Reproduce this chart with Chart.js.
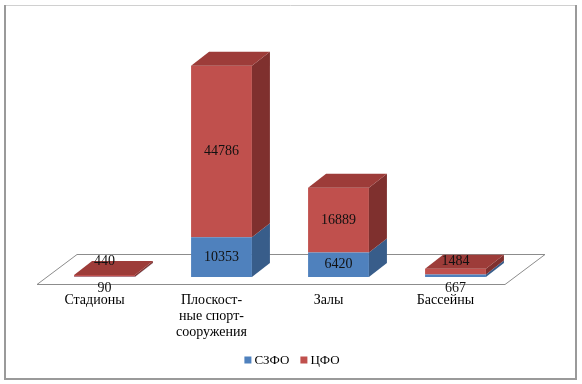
<!DOCTYPE html>
<html>
<head>
<meta charset="utf-8">
<script src="https://cdn.jsdelivr.net/npm/chart.js@4.4.1/dist/chart.umd.min.js"></script>
<style>
  html, body { margin: 0; padding: 0; background: #fff; }
  #wrap { width: 582px; height: 384px; position: relative; }
</style>
</head>
<body>
<div id="wrap"><canvas id="chart"></canvas></div>
<script>
// Chart data
const categories = ['Стадионы', ['Плоскост-', 'ные спорт-', 'сооружения'], 'Залы', 'Бассейны'];
const szfo = [90, 10353, 6420, 667];
const cfo = [440, 44786, 16889, 1484];
const seriesNames = ['СЗФО', 'ЦФО'];

// Colours: front, side, top
const faces = [
  { front: '#4f81bd', side: '#385d8a', top: '#416a9c' },
  { front: '#c0504d', side: '#7f302e', top: '#9d3c39' }
];

const DX = 18, DY = -14;
const FONT = "'Liberation Serif', 'Times New Roman', serif";

Chart.defaults.font.family = FONT;

function poly(ctx, pts, fill, stroke) {
  ctx.beginPath();
  ctx.moveTo(pts[0][0], pts[0][1]);
  for (let i = 1; i < pts.length; i++) ctx.lineTo(pts[i][0], pts[i][1]);
  ctx.closePath();
  if (fill) { ctx.fillStyle = fill; ctx.fill(); }
  if (stroke) { ctx.strokeStyle = stroke; ctx.lineWidth = 1; ctx.stroke(); }
}

const bar3d = {
  id: 'bar3d',
  beforeDraw(chart) {
    const ctx = chart.ctx;
    ctx.save();
    ctx.fillStyle = '#fff';
    ctx.fillRect(0, 0, chart.width, chart.height);
    // frame
    ctx.strokeStyle = '#d0d0d0';
    ctx.lineWidth = 1;
    ctx.beginPath(); ctx.moveTo(4, 5.5); ctx.lineTo(577, 5.5); ctx.stroke();
    ctx.strokeStyle = '#9a9a9a';
    ctx.lineWidth = 2;
    ctx.beginPath();
    ctx.moveTo(5, 5); ctx.lineTo(5, 379); ctx.lineTo(576, 379); ctx.lineTo(576, 5);
    ctx.stroke();
    ctx.restore();
  },
  beforeDatasetsDraw(chart) {
    const ctx = chart.ctx;
    const a = chart.chartArea;
    ctx.save();
    poly(ctx, [
      [a.left - 9, a.bottom + 7.5], [a.right - 9, a.bottom + 7.5],
      [a.right + 31, a.bottom - 22.5], [a.left + 31, a.bottom - 22.5]
    ], '#fff', '#8c8c8c');
    ctx.restore();
  },
  afterDatasetsDraw(chart) {
    const ctx = chart.ctx;
    const a = chart.chartArea;
    const last = chart.data.datasets.length - 1;
    ctx.save();
    chart.data.datasets.forEach((ds, d) => {
      const meta = chart.getDatasetMeta(d);
      meta.data.forEach(el => {
        const left = el.x - el.width / 2, right = el.x + el.width / 2;
        const top = Math.min(el.y, el.base), bottom = Math.max(el.y, el.base);
        poly(ctx, [[right, top], [right + DX, top + DY], [right + DX, bottom + DY], [right, bottom]], faces[d].side);
        if (d === last) {
          poly(ctx, [[left, top], [left + DX, top + DY], [right + DX, top + DY], [right, top]], faces[d].top);
        }
      });
    });
    // data labels
    ctx.font = '14px ' + FONT;
    ctx.fillStyle = '#111';
    ctx.textAlign = 'center';
    ctx.textBaseline = 'middle';
    chart.data.datasets.forEach((ds, d) => {
      const meta = chart.getDatasetMeta(d);
      meta.data.forEach((el, i) => {
        const top = Math.min(el.y, el.base), bottom = Math.max(el.y, el.base);
        let y;
        if (bottom - top >= 16) y = (top + bottom) / 2;
        else if (d === 0) y = a.bottom + 11;
        else y = a.bottom - 16;
        ctx.fillText(String(ds.data[i]), el.x, y);
      });
    });
    ctx.restore();
  },
  afterDraw(chart) {
    const ctx = chart.ctx;
    const a = chart.chartArea;
    const xs = chart.scales.x;
    ctx.save();
    // category labels
    ctx.font = '14px ' + FONT;
    ctx.fillStyle = '#000';
    ctx.textAlign = 'center';
    ctx.textBaseline = 'middle';
    chart.data.labels.forEach((lab, i) => {
      const lines = Array.isArray(lab) ? lab : [lab];
      const x = xs.getPixelForValue(i) - 10;
      lines.forEach((ln, j) => ctx.fillText(ln, x, a.bottom + 23 + j * 16));
    });
    // legend
    ctx.font = '13px ' + FONT;
    const box = 7, gap = 3, itemGap = 11;
    const widths = chart.data.datasets.map(ds => box + gap + ctx.measureText(ds.label).width);
    const total = widths.reduce((s, w) => s + w, 0) + itemGap * (widths.length - 1);
    let x = 292 - total / 2;
    const y = 360;
    ctx.textAlign = 'left';
    chart.data.datasets.forEach((ds, d) => {
      ctx.fillStyle = faces[d].front;
      ctx.fillRect(x, y - box / 2, box, box);
      ctx.fillStyle = '#000';
      ctx.fillText(ds.label, x + box + gap, y + 1);
      x += widths[d] + itemGap;
    });
    ctx.restore();
  }
};

new Chart(document.getElementById('chart'), {
  type: 'bar',
  data: {
    labels: categories,
    datasets: [
      { label: seriesNames[0], data: szfo, backgroundColor: faces[0].front, borderWidth: 0 },
      { label: seriesNames[1], data: cfo, backgroundColor: faces[1].front, borderWidth: 0 }
    ]
  },
  options: {
    responsive: true,
    maintainAspectRatio: false,
    animation: false,
    layout: { padding: { top: 47, bottom: 107, left: 46, right: 68 } },
    datasets: { bar: { barPercentage: 1, categoryPercentage: 0.52 } },
    plugins: { legend: { display: false }, tooltip: { enabled: false } },
    scales: {
      x: { stacked: true, display: false },
      y: { stacked: true, display: false, min: 0, max: 60000 }
    }
  },
  plugins: [bar3d]
});
</script>
</body>
</html>
